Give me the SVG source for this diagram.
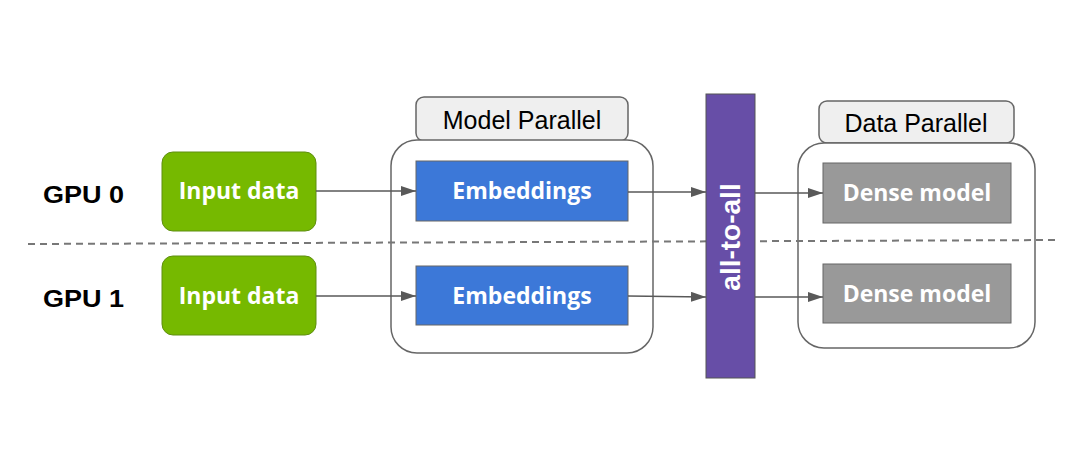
<svg xmlns="http://www.w3.org/2000/svg" width="1080" height="468" viewBox="0 0 1080 468">
<defs>
<marker id="arr" viewBox="0 0 15 10" refX="15" refY="5" markerWidth="15" markerHeight="10" markerUnits="userSpaceOnUse" orient="auto">
<path d="M0,0 L15,5 L0,10 z" fill="#595959"/>
</marker>
<style>
.box{font-family:"Open Sans","Liberation Sans",sans-serif;font-weight:bold;font-size:23px;fill:#ffffff;text-anchor:middle}
.lbl{font-family:"Liberation Sans",Arial,sans-serif;font-size:25px;fill:#000000;text-anchor:middle}
.gpu{font-family:"Liberation Sans",Arial,sans-serif;font-weight:bold;font-size:23.5px;fill:#000000}
.cont{fill:#ffffff;stroke:#666666;stroke-width:1.5}
.tag{fill:#efefef;stroke:#666666;stroke-width:1.5}
.conn{stroke:#595959;stroke-width:1.5;fill:none}
</style>
</defs>
<rect width="1080" height="468" fill="#ffffff"/>

<g id="model-parallel">
<rect class="tag" x="416" y="97" width="212" height="44" rx="8"/>
<text class="lbl" x="522" y="129">Model Parallel</text>
<rect class="cont" x="391" y="140" width="262" height="213" rx="26"/>
</g>

<g id="data-parallel">
<rect class="tag" x="819" y="101" width="195" height="42" rx="8"/>
<text class="lbl" x="916" y="132">Data Parallel</text>
<rect class="cont" x="798" y="143" width="237" height="205" rx="26"/>
</g>

<g id="gpu-divider">
<line x1="28" y1="244" x2="1060" y2="240" stroke="#777777" stroke-width="2" stroke-dasharray="7,5"/>
</g>

<g id="gpu0-label"><text class="gpu" transform="translate(43,203) scale(1.15,1)">GPU 0</text></g>
<g id="gpu1-label"><text class="gpu" transform="translate(43,307) scale(1.15,1)">GPU 1</text></g>

<g id="input0">
<rect x="162" y="152" width="154" height="79" rx="11" fill="#76b900" stroke="#5f8f10" stroke-width="1"/>
<text class="box" x="239" y="199">Input data</text>
</g>
<g id="input1">
<rect x="162" y="256" width="154" height="79" rx="11" fill="#76b900" stroke="#5f8f10" stroke-width="1"/>
<text class="box" x="239" y="304">Input data</text>
</g>

<g id="emb0">
<rect x="416" y="161" width="212" height="60" fill="#3c78d8" stroke="#666666" stroke-width="1"/>
<text class="box" x="522" y="199">Embeddings</text>
</g>
<g id="emb1">
<rect x="416" y="266" width="212" height="59" fill="#3c78d8" stroke="#666666" stroke-width="1"/>
<text class="box" x="522" y="304">Embeddings</text>
</g>

<g id="all-to-all">
<rect x="706" y="94" width="49" height="284" fill="#674ea7" stroke="#555555" stroke-width="1"/>
<text transform="translate(740,237) rotate(-90)" font-family="Liberation Sans, Arial, sans-serif" font-weight="bold" font-size="28" fill="#ffffff" text-anchor="middle">all-to-all</text>
</g>

<g id="dense0">
<rect x="823" y="163" width="188" height="60" fill="#999999" stroke="#666666" stroke-width="1"/>
<text class="box" x="917" y="201">Dense model</text>
</g>
<g id="dense1">
<rect x="823" y="264" width="188" height="59" fill="#999999" stroke="#666666" stroke-width="1"/>
<text class="box" x="917" y="302">Dense model</text>
</g>

<g id="connectors">
<line class="conn" x1="316" y1="191" x2="416" y2="191" marker-end="url(#arr)"/>
<line class="conn" x1="316" y1="296" x2="416" y2="296" marker-end="url(#arr)"/>
<line class="conn" x1="628" y1="192" x2="706" y2="192" marker-end="url(#arr)"/>
<line class="conn" x1="628" y1="296" x2="706" y2="297" marker-end="url(#arr)"/>
<line class="conn" x1="755" y1="193" x2="823" y2="193" marker-end="url(#arr)"/>
<line class="conn" x1="755" y1="297" x2="823" y2="297" marker-end="url(#arr)"/>
</g>
</svg>
